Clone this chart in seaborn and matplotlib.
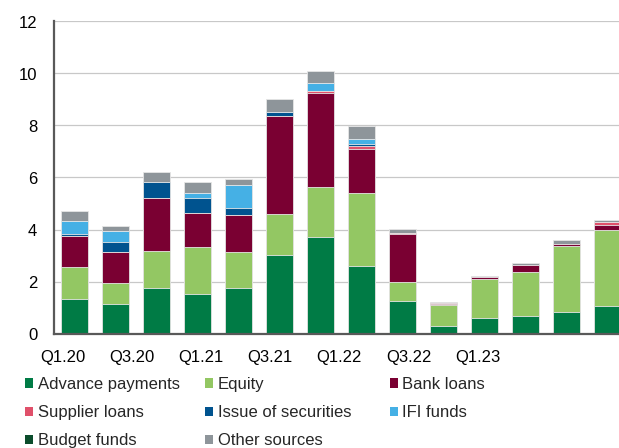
import numpy as np
import pandas as pd
import matplotlib
matplotlib.use("Agg")
import matplotlib.pyplot as plt
import seaborn as sns
from matplotlib.patches import Patch

# Quarterly financing sources (stacked), bottom to top
quarters = ["Q1.20", "Q2.20", "Q3.20", "Q4.20", "Q1.21", "Q2.21", "Q3.21",
            "Q4.21", "Q1.22", "Q2.22", "Q3.22", "Q4.22", "Q1.23", "Q2.23"]
advance_payments = [1.33, 1.15, 1.76, 1.52, 1.76, 3.03, 3.72, 2.61, 1.24, 0.30, 0.61, 0.69, 0.84, 1.05]
equity = [1.23, 0.79, 1.43, 1.82, 1.39, 1.57, 1.93, 2.78, 0.76, 0.80, 1.49, 1.69, 2.54, 2.95]
bank_loans = [1.18, 1.18, 2.01, 1.28, 1.41, 3.78, 3.61, 1.72, 1.82, 0.05, 0.06, 0.27, 0.08, 0.18]
supplier_loans = [0.00, 0.00, 0.00, 0.00, 0.00, 0.00, 0.08, 0.10, 0.06, 0.02, 0.02, 0.00, 0.00, 0.11]
issue_of_securities = [0.07, 0.39, 0.63, 0.60, 0.27, 0.15, 0.00, 0.08, 0.00, 0.00, 0.00, 0.00, 0.00, 0.00]
ifi_funds = [0.53, 0.44, 0.00, 0.17, 0.87, 0.00, 0.30, 0.18, 0.00, 0.00, 0.00, 0.00, 0.00, 0.00]
budget_funds = [0.00] * 14
other_sources = [0.38, 0.17, 0.39, 0.45, 0.26, 0.48, 0.45, 0.53, 0.15, 0.05, 0.04, 0.06, 0.12, 0.07]

series_names = ["Advance payments", "Equity", "Bank loans", "Supplier loans",
                "Issue of securities", "IFI funds", "Budget funds", "Other sources"]
series_colors = ["#007b45", "#93c763", "#7a0032", "#e0506a",
                 "#00538f", "#45b0e5", "#0b4d2c", "#8e959a"]

df = pd.DataFrame({
    "Advance payments": advance_payments,
    "Equity": equity,
    "Bank loans": bank_loans,
    "Supplier loans": supplier_loans,
    "Issue of securities": issue_of_securities,
    "IFI funds": ifi_funds,
    "Budget funds": budget_funds,
    "Other sources": other_sources,
}, index=quarters)
cum = df[series_names].cumsum(axis=1)

sns.set_theme(style="white")
plt.rcParams["font.family"] = ["Liberation Sans", "DejaVu Sans"]
plt.rcParams["font.size"] = 12

W, H = 619, 448
fig = plt.figure(figsize=(W / 100, H / 100), dpi=100)
ax = fig.add_axes([54 / W, (H - 333.5) / H, 574 / W, 312 / H])

# Stack by overlaying cumulative totals, tallest layer first
for name, color in reversed(list(zip(series_names, series_colors))):
    sns.barplot(x=quarters, y=cum[name].values, color=color, saturation=1,
                width=0.67, edgecolor="#e6e6e6", linewidth=0.6,
                errorbar=None, ax=ax)

ax.set_xlim(-0.5, 13.5)
ax.set_ylim(0, 12)

# y axis
ax.set_yticks(range(0, 13, 2))
ax.tick_params(axis="y", direction="in", length=6, width=1.5,
               color="#595959", pad=12, labelsize=12, labelcolor="black")
ax.yaxis.grid(True, color="#c8c8c8", linewidth=0.9)
ax.set_axisbelow(True)

# x axis: boundary ticks between bars, labels every second quarter
ax.set_xticks(np.arange(0.5, 13, 1), minor=True)
label_pos = -0.28 + 1.685 * np.arange(7)
ax.set_xticks(label_pos, labels=quarters[::2])
ax.tick_params(axis="x", which="major", length=0, pad=12,
               labelsize=12, labelcolor="black")
ax.tick_params(axis="x", which="minor", direction="in", length=5,
               width=1.5, color="#595959")
ax.set_xlabel("")
ax.set_ylabel("")

for side in ["top", "right"]:
    ax.spines[side].set_visible(False)
for side in ["left", "bottom"]:
    ax.spines[side].set_color("#595959")
    ax.spines[side].set_linewidth(1.6)

# Legend laid out in three fixed columns
handles = [Patch(facecolor=c, edgecolor="none") for c in series_colors]
columns = [[0, 3, 6], [1, 4, 7], [2, 5]]
col_x = [25, 205, 390]
for idx, x0 in zip(columns, col_x):
    fig.legend([handles[i] for i in idx], [series_names[i] for i in idx],
               loc="upper left", bbox_to_anchor=(x0 / W, (H - 377) / H),
               frameon=False, borderpad=0, borderaxespad=0,
               handlelength=0.5, handleheight=0.5, handletextpad=0.25,
               labelspacing=0.79, fontsize=12)

fig.savefig("out.png", dpi=100)
